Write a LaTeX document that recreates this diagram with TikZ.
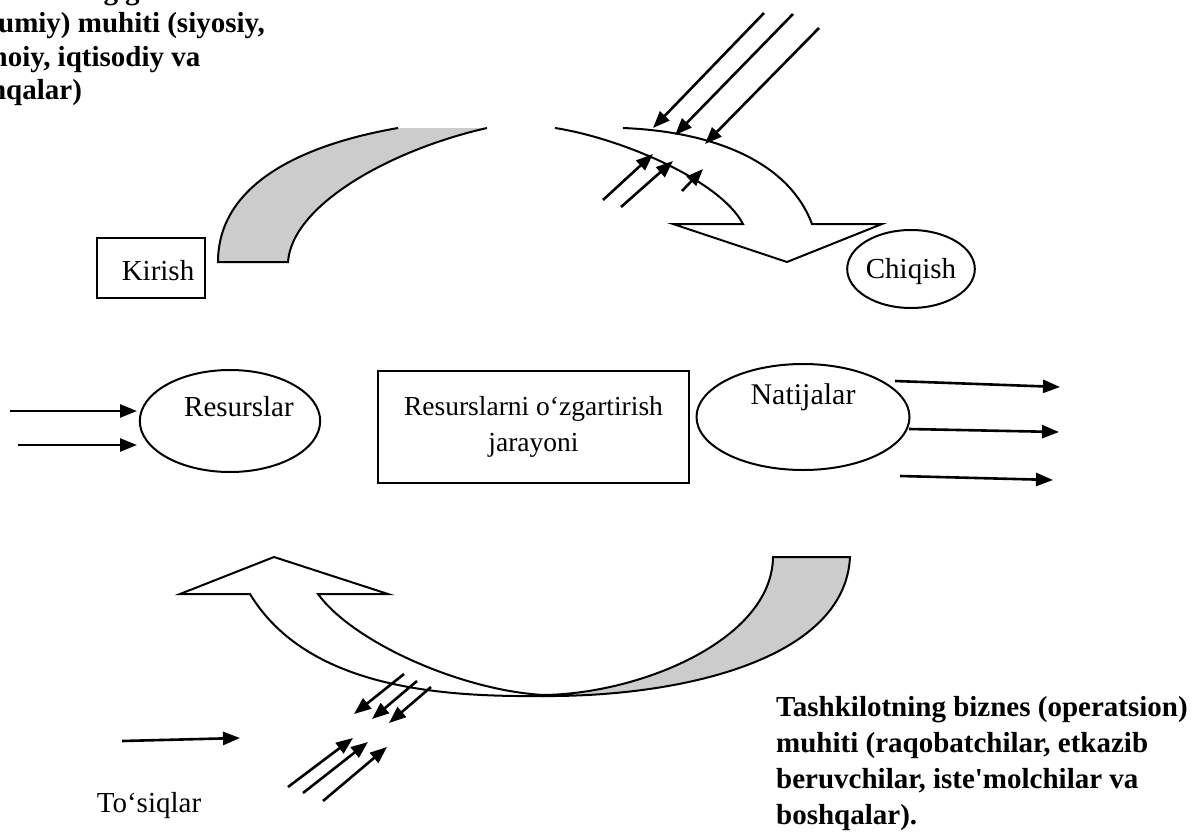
\documentclass[tikz,border=0pt]{standalone}
\usepackage{fontspec}
\setmainfont{Liberation Serif}[Ligatures=TeXOff]
\usetikzlibrary{arrows.meta,shapes.geometric}
\begin{document}
\begin{tikzpicture}[x=1pt,y=-1pt,
  box/.style={draw, line width=2pt, rectangle, inner sep=0pt},
  oval/.style={draw, line width=2pt, ellipse, inner sep=0pt},
  lbl/.style={font=\fontsize{29}{32}\selectfont},
  env/.style={font=\fontsize{29}{36}\selectfont\bfseries, align=left, inner sep=0pt},
  band/.style={line width=2pt, line join=miter},
  flow/.style={line width=2.6pt, -{Triangle[length=17pt,width=13pt]}},
]
\useasboundingbox (0,0) rectangle (1199,835);
\clip (0,0) rectangle (1199,835);

% environment descriptions
\node[env, font=\fontsize{29}{33.5}\selectfont\bfseries, anchor=north west] (macro) at (-52,-21)
  {Tashkilotning global\\(umumiy) muhiti (siyosiy,\\ijtimoiy, iqtisodiy va\\boshqalar)};
\node[env, anchor=north west] (biz) at (776,696)
  {Tashkilotning biznes (operatsion)\\muhiti (raqobatchilar, etkazib\\beruvchilar, iste'molchilar va\\boshqalar).};

% system blocks
\node[box, minimum width=108pt, minimum height=60pt, lbl, text height=24pt, text depth=0pt] (kir) at (151,268) {\hspace{14pt}Kirish};
\node[oval, minimum width=114pt, minimum height=78pt, lbl, text height=19pt, text depth=1pt] (chi) at (911,269) {Chiqish};
\node[oval, minimum width=180pt, minimum height=102pt, lbl, text height=20pt, text depth=30pt] (res) at (230,421) {\hspace{18pt}Resurslar};
\node[box, minimum width=311pt, minimum height=112pt, font=\fontsize{27.5}{36}\selectfont, align=center] (proc) at (533.5,427) {Resurslarni o‘zgartirish\\jarayoni};
\node[oval, minimum width=213pt, minimum height=106pt, font=\fontsize{30}{32}\selectfont, text height=20pt, text depth=46pt] (nat) at (803,417) {Natijalar\hspace{18pt}};
\node[lbl, anchor=base] (tos) at (149,812) {To‘siqlar};

% upper curved arrow: shaded back limb
\fill[gray!40] (218,262) -- (288,262) .. controls (292,205) and (390,150) .. (487,128)
  -- (398,128) .. controls (300,145) and (218,185) .. (218,262) -- cycle;
\draw[band] (398,128) .. controls (300,145) and (218,185) .. (218,262) -- (288,262)
  .. controls (292,205) and (390,150) .. (487,128);
% upper curved arrow: front limb with head
\draw[band, fill=white] (555,128) .. controls (620,138) and (720,180) .. (743,224)
  -- (673,224) -- (787,262) -- (882,224) -- (812,224)
  .. controls (790,165) and (720,132) .. (623,128);

% lower curved arrow: front limb with head
\draw[band, fill=white] (543,696) .. controls (440,697) and (307,688) .. (250,594)
  -- (180,594) -- (274,557) -- (388,594) -- (318,594)
  .. controls (353,642) and (460,690) .. (543,695) -- cycle;
% lower curved arrow: shaded back limb
\draw[band, fill=gray!40] (543,696) .. controls (680,697) and (845,660) .. (850,557)
  -- (773,557) .. controls (772,640) and (640,694) .. (543,695) -- cycle;

% arrow end points
\coordinate (a1s) at (764,13);  \coordinate (a1e) at (653,128);
\coordinate (a2s) at (793,14);  \coordinate (a2e) at (675,135);
\coordinate (a3s) at (819,28);  \coordinate (a3e) at (705,144);
\coordinate (b1s) at (603,200); \coordinate (b1e) at (653,154);
\coordinate (b2s) at (621,207); \coordinate (b2e) at (673,161);
\coordinate (b3s) at (682,191); \coordinate (b3e) at (703,169);
\coordinate (r1s) at (10,411);  \coordinate (r1e) at (137,411);
\coordinate (r2s) at (18,445);  \coordinate (r2e) at (137,445);
\coordinate (n1s) at (895,381); \coordinate (n1e) at (1060,387);
\coordinate (n2s) at (909,429); \coordinate (n2e) at (1059,432);
\coordinate (n3s) at (900,476); \coordinate (n3e) at (1053,480);
\coordinate (t0s) at (122,741); \coordinate (t0e) at (240,738);
\coordinate (d1s) at (404,674); \coordinate (d1e) at (354,714);
\coordinate (d2s) at (417,681); \coordinate (d2e) at (372,719);
\coordinate (d3s) at (431,687); \coordinate (d3e) at (389,723);
\coordinate (u1s) at (288,787); \coordinate (u1e) at (353,738);
\coordinate (u2s) at (303,793); \coordinate (u2e) at (368,742);
\coordinate (u3s) at (323,801); \coordinate (u3e) at (387,747);

% influences and flows
\foreach \a in {a1,a2,a3,b1,b2,b3,r1,r2,n1,n2,n3,t0,d1,d2,d3,u1,u2,u3}
  \draw[flow] (\a s) -- (\a e);
\end{tikzpicture}
\end{document}
